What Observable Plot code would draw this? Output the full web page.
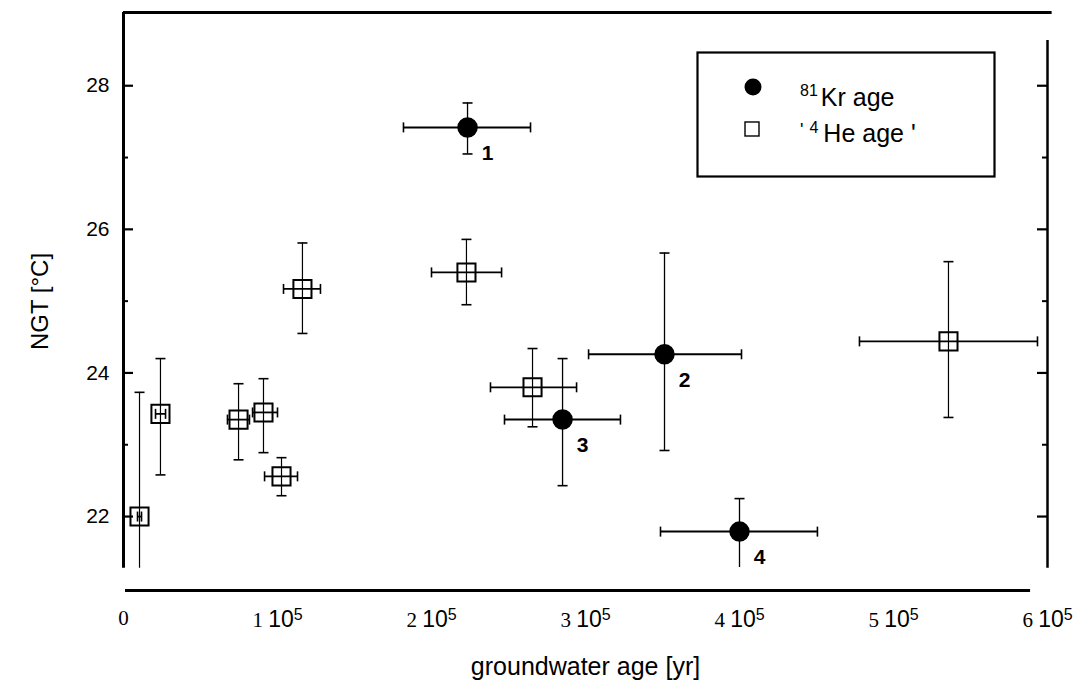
<!DOCTYPE html>
<html><head><meta charset="utf-8">
<script src="https://cdn.jsdelivr.net/npm/d3@7"></script>
<script src="https://cdn.jsdelivr.net/npm/@observablehq/plot@0.6"></script>
<style>
body{margin:0;background:#fff;}
#wrap{position:relative;width:1087px;height:691px;overflow:hidden;}
#legend{position:absolute;left:696px;top:51px;}
</style></head>
<body><div id="wrap"></div>
<script>
// 81Kr ages (filled circles)
const krLabel  = ["1", "2", "3", "4"];
const krAge    = [223400, 351300, 285100, 400000];
const krAgeLo  = [181800, 302000, 247400, 348700];
const krAgeHi  = [264300, 401300, 322700, 450600];
const krNGT    = [27.42, 24.26, 23.35, 21.79];
const krNGTLo  = [27.05, 22.92, 22.43, 21.29];
const krNGTHi  = [27.76, 25.67, 24.20, 22.25];

// 4He ages (open squares)
const heAge    = [10400, 24000, 74700, 90900, 102600, 116200, 222700, 265600, 535700];
const heAgeLo  = [9100, 20800, 67500, 83800, 91600, 103900, 200000, 238300, 477900];
const heAgeHi  = [11700, 27300, 81800, 100000, 113000, 127900, 245500, 294200, 593500];
const heNGT    = [22.00, 23.43, 23.35, 23.45, 22.56, 25.17, 25.40, 23.80, 24.44];
const heNGTLo  = [21.28, 22.58, 22.79, 22.89, 22.29, 24.55, 24.95, 23.25, 23.38];
const heNGTHi  = [23.73, 24.20, 23.85, 23.92, 22.82, 25.81, 25.86, 24.34, 25.55];

// axes
const xTicks = [0, 100000, 200000, 300000, 400000, 500000, 600000];
const yMajor = [22, 24, 26, 28];
const yMinor = [23, 25, 27];
const xDomain = [0, 600000];
const yDomain = [20.97, 29.02];
const xLabel = "groundwater age [yr]";
const yLabel = "NGT [°C]";
const legendLabels = ["Kr age", "He age '"];

const kr = krAge.map((x, i) => ({x, xlo: krAgeLo[i], xhi: krAgeHi[i], y: krNGT[i], ylo: krNGTLo[i], yhi: krNGTHi[i], label: krLabel[i]}));
const he = heAge.map((x, i) => ({x, xlo: heAgeLo[i], xhi: heAgeHi[i], y: heNGT[i], ylo: heNGTLo[i], yhi: heNGTHi[i]}));

const capH = {draw(ctx) { ctx.moveTo(-5, 0); ctx.lineTo(5, 0); }};
const capV = {draw(ctx) { ctx.moveTo(0, -5); ctx.lineTo(0, 5); }};

function errorMarks(data, hWidth, vWidth) {
  return [
    Plot.ruleY(data, {y: "y", x1: "xlo", x2: "xhi", stroke: "black", strokeWidth: hWidth}),
    Plot.ruleX(data, {x: "x", y1: "ylo", y2: "yhi", stroke: "black", strokeWidth: vWidth}),
    Plot.dot(data, {x: "xlo", y: "y", symbol: capV, r: 5, fill: "none", stroke: "black", strokeWidth: 1.6}),
    Plot.dot(data, {x: "xhi", y: "y", symbol: capV, r: 5, fill: "none", stroke: "black", strokeWidth: 1.6}),
    Plot.dot(data, {x: "x", y: "yhi", symbol: capH, r: 5, fill: "none", stroke: "black", strokeWidth: 1.6}),
    Plot.dot(data.filter(d => d.ylo > 21.3), {x: "x", y: "ylo", symbol: capH, r: 5, fill: "none", stroke: "black", strokeWidth: 1.6})
  ];
}

const chart = Plot.plot({
  width: 1087,
  height: 691,
  marginLeft: 123,
  marginRight: 40,
  marginTop: 12,
  marginBottom: 101,
  style: {fontFamily: "'Liberation Sans', Arial, sans-serif", background: "white", color: "black"},
  x: {domain: xDomain},
  y: {domain: yDomain},
  marks: [
    // frame
    Plot.ruleX([xDomain[0]], {y1: yDomain[1], y2: 21.28, stroke: "black", strokeWidth: 3}),
    Plot.ruleX([xDomain[1]], {y1: 28.63, y2: 21.28, stroke: "black", strokeWidth: 2.5}),
    Plot.ruleY([yDomain[1]], {x1: xDomain[0], x2: 603000, stroke: "black", strokeWidth: 3}),
    Plot.ruleY([yDomain[0]], {x1: 1300, x2: 589000, stroke: "black", strokeWidth: 3}),
    // y ticks inward
    Plot.axisY(yMajor, {anchor: "left", tickSize: -10, strokeWidth: 2.2, fill: "none", label: null}),
    Plot.axisY(yMinor, {anchor: "left", tickSize: -5, strokeWidth: 2, fill: "none", label: null}),
    Plot.axisY(yMajor, {anchor: "right", tickSize: -11, strokeWidth: 2.2, fill: "none", label: null}),
    Plot.axisY(yMinor, {anchor: "right", tickSize: -6, strokeWidth: 2, fill: "none", label: null}),
    Plot.axisY(yMajor, {anchor: "left", tickSize: 0, tickPadding: 14, label: null, tickFormat: d => String(d)}),
    Plot.axisX(xTicks, {anchor: "bottom", tickSize: 0, tickPadding: 20, label: null,
      tickFormat: d => d === 0 ? "0" : `${d / 1e5}|10|5`}),
    Plot.text([xLabel], {frameAnchor: "bottom", text: d => d, dy: 76, fontSize: 25, lineAnchor: "middle", textAnchor: "middle"}),
    Plot.text([yLabel], {frameAnchor: "left", text: d => d, dx: -83, rotate: -90, fontSize: 24, lineAnchor: "middle", textAnchor: "middle"}),
    // error bars
    ...errorMarks(he, 1.8, 1.2),
    ...errorMarks(kr, 2, 1.3),
    // points
    Plot.dot(he, {x: "x", y: "y", symbol: "square", r: 10.2, fill: "none", stroke: "black", strokeWidth: 2}),
    Plot.dot(kr, {x: "x", y: "y", r: 9.5, fill: "black", stroke: "black"}),
    Plot.text(kr, {x: "x", y: "y", text: "label", dx: 20, dy: 26, fontSize: 21, fontWeight: "bold"})
  ]
});

// y tick labels size
d3.select(chart).selectAll('g[aria-label="y-axis tick label"]').style("font-size", "21px");
// mixed-font x tick labels: "1 10^5"
d3.select(chart).selectAll('g[aria-label="x-axis tick label"]').style("font-size", "23px");
d3.select(chart).selectAll('g[aria-label="x-axis tick label"] text').each(function() {
  const t = d3.select(this);
  const s = t.text();
  if (!s.includes("|")) {
    t.style("font-family", "'Liberation Serif', 'DejaVu Serif', serif").style("font-size", "21px");
    return;
  }
  const [a, b, c] = s.split("|");
  t.text(null);
  t.append("tspan").text(a + " ").style("font-family", "'Liberation Serif', 'DejaVu Serif', serif").style("font-size", "21px");
  t.append("tspan").text(b);
  t.append("tspan").text(c).attr("dy", "-0.45em").style("font-size", "16px");
});

document.getElementById("wrap").appendChild(chart);

// legend
const legend = d3.select("#wrap").append("svg").attr("id", "legend")
  .attr("width", 301).attr("height", 128)
  .style("font-family", "'Liberation Sans', Arial, sans-serif");
legend.append("rect").attr("x", 1.5).attr("y", 1.5).attr("width", 297).attr("height", 124)
  .attr("fill", "white").attr("stroke", "black").attr("stroke-width", 2.2);
legend.append("circle").attr("cx", 57).attr("cy", 36).attr("r", 8.5).attr("fill", "black");
legend.append("rect").attr("x", 49).attr("y", 71).attr("width", 14).attr("height", 14)
  .attr("fill", "none").attr("stroke", "black").attr("stroke-width", 1.4);
const t1 = legend.append("text").attr("x", 104).attr("y", 55).attr("font-size", 25);
t1.append("tspan").text("81").attr("font-size", 16).attr("dy", "-10");
t1.append("tspan").text(legendLabels[0]).attr("dy", "10").attr("dx", "3");
const t2 = legend.append("text").attr("x", 104).attr("y", 91).attr("font-size", 25);
t2.append("tspan").text("'").attr("font-size", 18).attr("dy", "-6");
t2.append("tspan").text("4").attr("font-size", 16).attr("dy", "-3").attr("dx", "6");
t2.append("tspan").text(legendLabels[1]).attr("dy", "9").attr("dx", "5");
</script>
</body></html>
